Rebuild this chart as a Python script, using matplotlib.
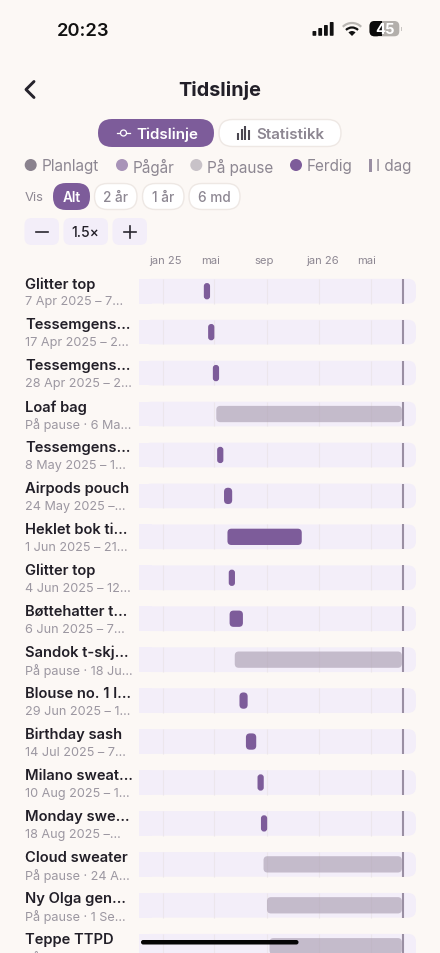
import numpy as np
import pandas as pd
import matplotlib
matplotlib.use("Agg")
import matplotlib.pyplot as plt
import matplotlib.dates as mdates
from matplotlib.patches import FancyBboxPatch, Rectangle, Circle, Arc, Wedge

plt.rcParams['font.family'] = ['Inter', 'DejaVu Sans']

# --- data ---
names = ["Glitter top", "Tessemgens…", "Tessemgens…", "Loaf bag", "Tessemgens…",
         "Airpods pouch", "Heklet bok ti…", "Glitter top", "Bøttehatter t…",
         "Sandok t-skj…", "Blouse no. 1 l…", "Birthday sash", "Milano sweat…",
         "Monday swe…", "Cloud sweater", "Ny Olga gen…", "Teppe TTPD"]
subtitles = ["7 Apr 2025 – 7…", "17 Apr 2025 – 2…", "28 Apr 2025 – 2…", "På pause · 6 Ma…",
             "8 May 2025 – 1…", "24 May 2025 –…", "1 Jun 2025 – 21…", "4 Jun 2025 – 12…",
             "6 Jun 2025 – 7…", "På pause · 18 Ju…", "29 Jun 2025 – 1…", "14 Jul 2025 – 7…",
             "10 Aug 2025 – 1…", "18 Aug 2025 –…", "På pause · 24 A…", "På pause · 1 Se…",
             "På pause · 7 S…"]
starts = ["2025-04-07", "2025-04-17", "2025-04-28", "2025-05-06", "2025-05-08", "2025-05-24",
          "2025-06-01", "2025-06-04", "2025-06-06", "2025-06-18", "2025-06-29", "2025-07-14",
          "2025-08-10", "2025-08-18", "2025-08-24", "2025-09-01", "2025-09-07"]
ends = ["2025-04-15", "2025-04-25", "2025-05-05", "2026-07-12", "2025-05-18", "2025-06-12",
        "2025-11-21", "2025-06-12", "2025-07-07", "2026-07-12", "2025-07-18", "2025-08-07",
        "2025-08-18", "2025-08-26", "2026-07-12", "2026-07-12", "2026-07-12"]
paused = [False, False, False, True, False, False, False, False, False, True, False, False,
          False, False, True, True, True]
tick_dates = ["2025-01-01", "2025-05-01", "2025-09-01", "2026-01-01", "2026-05-01"]
tick_labels = ["jan 25", "mai", "sep", "jan 26", "mai"]
today = "2026-07-14"
legend_labels = ["Planlagt", "Pågår", "På pause", "Ferdig"]
range_labels = ["2 år", "1 år", "6 md"]

BG = "#FCF8F5"
PURPLE = "#7D5C9A"
TRACK = "#F3EEF9"
DARK = "#221F28"
GREY = "#8D8792"
SUB = "#9C97A1"
GRID = "#ECE6EC"
TODAY = "#9A8FA3"

W, H = 440, 954
fig = plt.figure(figsize=(W / 100, H / 100), dpi=100, facecolor=BG)


def pill(ax, x0, y0, x1, y1, r, fc, ec="none", lw=1.0, zorder=2):
    ax.add_patch(FancyBboxPatch((x0, y0), x1 - x0, y1 - y0,
                                boxstyle=f"round,pad=0,rounding_size={r}",
                                fc=fc, ec=ec, lw=lw, zorder=zorder))


# --- chart area with a real date axis ---
PX_PER_DAY = 0.4295
ROW_PX = 40.94
jan1 = mdates.date2num(pd.Timestamp("2025-01-01"))
chart_top = 270
ax = fig.add_axes([139 / W, 0, (416 - 139) / W, (H - chart_top) / H])
ax.set_xlim(jan1 + (139 - 162.6) / PX_PER_DAY, jan1 + (416 - 162.6) / PX_PER_DAY)
ax.set_ylim((H - 292.2) / ROW_PX, (chart_top - 292.2) / ROW_PX)
ax.axis("off")
aspect = (1 / ROW_PX) / (1 / PX_PER_DAY)

grid_x = mdates.date2num(pd.to_datetime(tick_dates))
today_x = mdates.date2num(pd.Timestamp(today))
xmin, xmax = ax.get_xlim()
track_h = 24.7 / ROW_PX
track_r = 8 / PX_PER_DAY

for i in range(len(names)):
    # track: square on the left, rounded on the right
    ax.add_patch(Rectangle((xmin, i - track_h / 2), 30, track_h, fc=TRACK, ec="none", zorder=1))
    ax.add_patch(FancyBboxPatch((xmin + 10, i - track_h / 2), xmax - xmin - 10, track_h,
                                boxstyle=f"round,pad=0,rounding_size={track_r}",
                                mutation_aspect=aspect, fc=TRACK, ec="none", zorder=1))
    ax.vlines(grid_x, i - track_h / 2, i + track_h / 2, color=GRID, lw=0.8, zorder=2)

    # bar, never thinner than about 6 px
    x0 = mdates.date2num(pd.Timestamp(starts[i]))
    x1 = mdates.date2num(pd.Timestamp(ends[i]))
    width = max(x1 - x0, 14.5)
    bar_h = 16.3 / ROW_PX
    r = min(4, width * PX_PER_DAY / 2 - 0.1) / PX_PER_DAY
    fc = ("#A89CB0", 0.62) if paused[i] else PURPLE
    ax.add_patch(FancyBboxPatch((x0, i - bar_h / 2), width, bar_h,
                                boxstyle=f"round,pad=0,rounding_size={r}",
                                mutation_aspect=aspect, fc=fc, ec="none", zorder=3))
    ax.vlines(today_x, i - track_h / 2, i + track_h / 2, color=TODAY, lw=1.5, zorder=4)

    # row labels live left of the track, in axes fraction
    trans = ax.get_yaxis_transform()
    ax.text((25 - 139) / 277, i - 7.7 / ROW_PX, names[i], transform=trans, color=DARK, fontsize=10.6,
            fontweight="semibold", ha="left", va="center", clip_on=False)
    ax.text((25 - 139) / 277, i + 10.3 / ROW_PX, subtitles[i], transform=trans, color=SUB, fontsize=9.1,
            ha="left", va="center", clip_on=False)

# month labels sit a few pixels off their gridline in the app
label_shift_px = [3, -4, -3, 3.5, -4]
for d, lab, dx in zip(grid_x, tick_labels, label_shift_px):
    ax.annotate(lab, (d, 1), xycoords=ax.get_xaxis_transform(), xytext=(dx * 0.72, 8.5 * 0.72),
                textcoords="offset points", ha="center", va="center", fontsize=8.1, color=GREY)

# --- app chrome in pixel coordinates ---
ui = fig.add_axes([0, 0, 1, 1], zorder=5)
ui.set_xlim(0, W)
ui.set_ylim(H, 0)
ui.axis("off")

# status bar
ui.text(83, 31, "20:23", fontsize=13.2, fontweight="semibold", color="#111111", ha="center", va="center")
for x, top in zip([312.5, 318.3, 324, 329.8], [32, 29, 26, 23]):
    ui.add_patch(FancyBboxPatch((x, top), 3.8, 36.8 - top, boxstyle="round,pad=0,rounding_size=0.8",
                                fc="#111111", ec="none"))
ui.add_patch(Wedge((352, 37), 5, 225, 315, fc="#111111", ec="none"))
ui.add_patch(Arc((352, 37), 17, 17, theta1=225, theta2=315, ec="#111111", lw=1.6))
ui.add_patch(Arc((352, 37), 26, 26, theta1=225, theta2=315, ec="#B9B6B2", lw=1.6))
pill(ui, 369.5, 22, 399.3, 37.3, 5, "#B3AFAB")
ui.add_patch(FancyBboxPatch((369.5, 22), 12, 15.3, boxstyle="round,pad=0,rounding_size=5", fc="#0A0A0A", ec="none", zorder=2))
ui.add_patch(Rectangle((376, 22), 5.5, 15.3, fc="#0A0A0A", ec="none", zorder=2))
ui.add_patch(Rectangle((400.5, 27.5), 1.2, 4.5, fc="#C9C6C3", ec="none"))
ui.text(385, 30.5, "45", fontsize=10.6, fontweight="bold", color="white", ha="center", va="center", zorder=3)

# header
ui.plot([34, 26, 34], [82.5, 90.5, 98.5], color="#26232C", lw=2.1, solid_capstyle="round", solid_joinstyle="round")
ui.text(220, 91, "Tidslinje", fontsize=14.3, fontweight="bold", color=DARK, ha="center", va="center")

# segmented control
pill(ui, 98, 120, 214, 148, 14, PURPLE)
pill(ui, 219, 120.5, 341, 147.5, 13.5, "white", ec="#EEE8E4")
ui.plot([117, 130], [134, 134], color="white", lw=0.9, zorder=3)
ui.add_patch(Circle((123.5, 134), 3, fc=PURPLE, ec="white", lw=0.9, zorder=4))
ui.text(167, 135, "Tidslinje", fontsize=10.9, fontweight="semibold", color="white", ha="center", va="center", zorder=3)
ui.vlines([238, 241.5, 245, 248.5], [134, 130, 127, 131], [141, 141, 141, 141], color="#4A4650", lw=1.5, zorder=3)
ui.text(290.5, 135, "Statistikk", fontsize=10.9, fontweight="semibold", color=GREY, ha="center", va="center", zorder=3)

# legend
legend_dot_x = [30.7, 122, 196.3, 296]
legend_dot_c = ["#8A828E", "#A893B8", "#C8C2C8", PURPLE]
legend_text_x = [41.3, 132.7, 207.3, 306.7]
for x, c in zip(legend_dot_x, legend_dot_c):
    ui.add_patch(Circle((x, 166), 6, fc=c, ec="none"))
for tx, lab in zip(legend_text_x, legend_labels):
    ui.text(tx, 167, lab, fontsize=11.0, color=GREY, ha="left", va="center")
ui.add_patch(Rectangle((369, 160), 2.6, 13, fc=TODAY, ec="none"))
ui.text(376, 167, "I dag", fontsize=11.0, color=GREY, ha="left", va="center")

# range buttons
ui.text(25, 198, "Vis", fontsize=9.4, color=GREY, ha="left", va="center")
pill(ui, 53, 184, 90, 211, 13, PURPLE)
ui.text(71.5, 198, "Alt", fontsize=9.8, fontweight="semibold", color="white", ha="center", va="center", zorder=3)
for (x0, x1), lab in zip([(94.5, 137), (142.5, 184), (189, 240)], range_labels):
    pill(ui, x0, 184.5, x1, 210.5, 13, "white", ec="#EEE8E4")
    ui.text((x0 + x1) / 2, 198, lab, fontsize=9.8, fontweight="medium", color=GREY, ha="center", va="center", zorder=3)

# zoom buttons
for x0, x1 in [(24.5, 59), (63.5, 108), (112.5, 147)]:
    pill(ui, x0, 219, x1, 246, 7, TRACK)
ui.plot([36, 48], [232.5, 232.5], color="#2A2730", lw=1.2, zorder=3)
ui.plot([124, 136], [232.5, 232.5], color="#2A2730", lw=1.2, zorder=3)
ui.plot([130, 130], [226.5, 238.5], color="#2A2730", lw=1.2, zorder=3)
ui.text(85.5, 233, "1.5×", fontsize=10, fontweight="medium", color=DARK, ha="center", va="center", zorder=3)

# home indicator
pill(ui, 141, 941, 298.5, 945.5, 2.2, "#050505", zorder=8)

fig.savefig("out.png", dpi=100, facecolor=BG)
